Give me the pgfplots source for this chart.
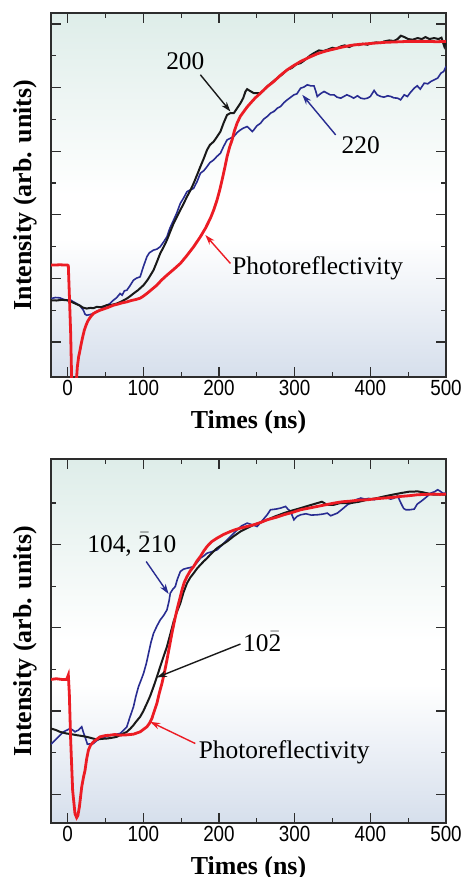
\documentclass[border=0pt]{standalone}
\usepackage{fontspec}
\setmainfont{Liberation Serif}
\newfontfamily\ticksans[FakeStretch=0.86]{Liberation Sans}
\usepackage{pgfplots}
\pgfplotsset{compat=1.18}
\usetikzlibrary{arrows.meta}

\definecolor{pr}{RGB}{236,28,36}
\definecolor{bl}{RGB}{40,44,145}
\definecolor{bk}{RGB}{25,25,25}
\definecolor{frame}{RGB}{45,45,45}
\definecolor{bgtop}{RGB}{222,237,233}
\definecolor{bgbot}{RGB}{214,223,236}
\pgfdeclareverticalshading{bgshade}{100bp}{color(0bp)=(bgbot); color(25bp)=(bgbot); color(44bp)=(white); color(50bp)=(white); color(75bp)=(bgtop); color(100bp)=(bgtop)}

\newcommand{\ob}[1]{$\bar{\hbox{#1}}$}

\tikzset{ann/.style={font=\fontsize{25.5}{30}\selectfont, inner sep=0pt},
  arr/.style={line width=1.4bp, -{Stealth[length=10bp,width=6.5bp]}}}

\pgfplotsset{
  panel/.style={
    scale only axis, width=395bp, height=364bp,
    xmin=-22, xmax=500,
    xtick={0,100,...,500}, minor x tick num=1,
    tick align=inside, xtick pos=both, ytick pos=both,
    major tick length=10bp, minor tick length=5bp,
    tick style={frame, line width=1.2bp},
    axis line style={frame, line width=2bp},
    yticklabel=\empty,
    tick label style={font=\ticksans\fontsize{22}{24}\selectfont},
    /pgf/number format/assume math mode=true,
    xlabel={Times (ns)}, ylabel={Intensity (arb. units)},
    label style={font=\bfseries\fontsize{26}{30}\selectfont},
    xlabel style={at={(axis description cs:0.5,-0.123)}, anchor=center},
    ylabel style={at={(axis description cs:-0.066,0.5)}, anchor=center},
    axis background/.style={shading=bgshade},
  },
}

\begin{document}
\begin{tikzpicture}
\useasboundingbox (0,0) rectangle (464bp,-877bp);

% ---- upper panel ----
\begin{axis}[panel, at={(51bp,-377bp)}, anchor=south west,
  ymin=0, ymax=1090,
  ytick={105,295.4,485.8,676.2,866.6,1057},
  minor ytick={200.2,390.6,581,771.4,961.8}]
\addplot[bl, line width=1.6bp] coordinates {
(-22,235) (-16,238) (-10.2,237) (-6,233) (-1.3,230) (3,232) (7,226) (11.9,220) (16,214) (20.8,200) (23,188) (25.2,185) (30,187) (34,190) (38,196) (42.8,200) (47,208) (51.7,215) (56,220) (60.5,230) (65,238) (69.3,250) (72,245) (75,258) (78.2,260) (82,272) (87,290) (91,296) (95.8,300) (100,330) (104.7,360) (108,372) (113.5,380) (118,383) (122.3,390) (127,405) (131.2,420) (135,445) (140,470) (144,490) (148.9,520) (153,535) (157.7,555) (162,560) (166.5,565) (171,585) (175.4,610) (180,618) (184.2,630) (188,642) (193,650) (197,660) (201.9,670) (206,690) (210.7,710) (215,715) (219.5,720) (224,732) (228.4,740) (232,745) (237.2,750) (241,742) (244,735) (246,740) (250,752) (254.9,760) (259,772) (263.7,780) (268,790) (272.5,795) (277,805) (281.4,810) (286,822) (290.2,830) (295,838) (299,845) (303,848) (307.9,865) (312,868) (316.7,875) (321,872) (325.5,872) (328,855) (329.9,840) (334,848) (338.8,855) (343,850) (347,845) (352,845) (356,838) (360.9,835) (365,840) (369,845) (374.1,840) (378,835) (383,842) (387.4,835) (392,833) (396.2,835) (400,840) (405,858) (409,845) (413.9,840) (418,838) (423,842) (427.1,840) (431,836) (436,835) (440,830) (444.8,845) (449,840) (453,852) (458,865) (462,872) (466,862) (471.3,880) (476,878) (480,885) (484.5,890) (489,895) (493.4,910) (497,915) (500,930)};
\addplot[bk, line width=2bp] coordinates {
(-22,230) (-15,229) (-8,231) (-1.3,230) (4,226) (8,222) (11.9,218) (16,214) (20,208) (25.2,205) (30,207) (34,206) (38.4,210) (44,209) (51.7,215) (58,216) (64.9,220) (71,226) (78.2,235) (82,241) (87,250) (93,260) (100.3,275) (106,292) (113.5,320) (118,345) (122.3,370) (127,390) (131.2,410) (135,432) (140,460) (144,478) (148.9,500) (153,518) (157.7,540) (162,558) (166.5,580) (171,605) (175.4,630) (180,655) (184.2,680) (188,695) (193,705) (197,718) (201.9,735) (206,760) (210.7,785) (215,790) (219.5,790) (224,805) (228.4,820) (232,835) (235,855) (237.2,862) (240,858) (246,850) (250,850) (254.9,850) (259,858) (263.7,870) (270,882) (276.9,895) (283,905) (290.2,920) (296,925) (302,936) (307.9,940) (314,950) (320,962) (325.5,970) (332,978) (338,976) (343.2,980) (350,986) (355,983) (360.9,990) (366,993) (372,988) (378.5,995) (385,994) (390,998) (396.2,995) (402,1000) (408,1002) (413,1000) (418.3,1005) (425,1008) (431,1006) (436,1012) (440.4,1022) (445,1018) (450,1012) (456,1010) (462.5,1015) (468,1012) (473,1018) (478,1012) (484.5,1015) (490,1012) (494,1016) (497.8,990) (500,1005)};
\addplot[pr, line width=2.8bp] coordinates {
(-22,335) (-10,336) (0,335) (0.9,333) (2.5,230) (4,130) (5.5,-30) (11,-30) (12.8,30) (14.5,60) (16.3,80) (18,100) (19.9,120) (22,140) (24.3,155) (26.5,167) (28.7,175) (31,182) (34,190) (38,195) (42.8,200) (48,204) (53,208) (60.5,215) (66,218) (72,222) (78.2,225) (84,229) (90,232) (95.8,236) (100,242) (104.7,250) (110,260) (117.9,275) (124,290) (131.2,305) (140,322) (148.9,340) (157,362) (166.5,390) (175.4,420) (182,445) (188.6,475) (193,500) (197.4,530) (201,560) (204.1,590) (207.5,625) (210.7,660) (214,688) (217.3,710) (220.5,738) (223.9,760) (228,780) (232.8,795) (237,808) (241.6,820) (248,836) (254.9,850) (263,868) (272.5,885) (281,903) (290.2,920) (299,933) (307.9,945) (319,957) (330,968) (341,976) (352,982) (363,988) (374.1,993) (385,996) (396.2,998) (407,1000) (418.3,1002) (429,1003) (440.4,1004) (451,1005) (462.5,1005) (475,1005) (488,1004) (500,1005)};
\node[ann] at (axis cs:155.5,945) {200};
\draw[bk, arr] (axis cs:175.4,905) -- (axis cs:215.1,795);
\node[ann] at (axis cs:387.4,695) {220};
\draw[bl, arr] (axis cs:354.2,725) -- (axis cs:310.1,845);
\node[ann, anchor=west] at (axis cs:217.3,325) {Photoreflectivity};
\draw[pr, arr] (axis cs:215.1,340) -- (axis cs:182,425);
\end{axis}

% ---- lower panel ----
\begin{axis}[panel, at={(51bp,-823bp)}, anchor=south west,
  ymin=0, ymax=1090,
  ytick={86,335.2,584.4,833.6},
  minor ytick={210.6,459.8,709,958.2}]
\addplot[bl, line width=1.6bp] coordinates {
(-22,236) (-18,245) (-14.6,253) (-10,263) (-5.7,273) (-1,278) (3.1,283) (7,278) (9.7,273) (12,276) (14.1,278) (16,282) (18.6,288) (21,270) (23,258) (26.1,236) (30,237) (34,238) (38,246) (42.8,253) (50,258) (56.1,263) (62,265) (69.3,268) (74,278) (78.2,288) (82,315) (87,348) (90,378) (93.6,408) (97,428) (100.3,448) (104,478) (106.9,508) (110,540) (113.5,568) (118,590) (122.3,608) (127,622) (131.2,638) (134,665) (135.6,688) (139,700) (142.2,708) (145,730) (148.9,753) (153,760) (157.7,763) (162,765) (166.5,768) (171,780) (175.4,793) (180,800) (184.2,808) (190,812) (197.4,818) (204,832) (210.7,848) (217,862) (223.9,878) (230,890) (237.2,898) (244,893) (250.4,888) (257,905) (263.7,923) (268.1,938) (275,940) (281.4,943) (288,948) (291,940) (294.6,933) (299,908) (303,918) (307.9,923) (315,926) (322,922) (330,923) (337,925) (343.2,928) (347.6,920) (352,924) (356.4,928) (363,940) (369.7,953) (376,960) (381,968) (387.4,973) (393,970) (398,972) (405,968) (410,972) (416,975) (422.7,973) (427,970) (431.5,973) (436,980) (440.4,958) (444,942) (447,938) (452,938) (458,940) (462,955) (466.9,963) (472,972) (480.1,988) (485,992) (489,998) (492,994) (495.6,988) (500,988)};
\addplot[bk, line width=2bp] coordinates {
(-22,283) (-15,278) (-10.2,273) (-5,270) (-1.3,268) (5,266) (11.9,263) (18,261) (25.2,258) (32,254) (38.4,250) (45,252) (51.7,253) (58,255) (64.9,258) (71,265) (78.2,273) (83,283) (87,293) (91,305) (95.8,318) (100,335) (104.7,358) (109,380) (113.5,408) (118,438) (122.3,468) (127,500) (131.2,528) (135.6,565) (140,603) (144,630) (148.9,658) (153,690) (157.7,718) (162,735) (166.5,748) (171,762) (175.4,773) (180,784) (184.2,793) (190,807) (197.4,823) (204,833) (210.7,843) (219,858) (228.4,873) (237,883) (246,893) (255,900) (263.7,908) (274,918) (285.8,928) (297,936) (307.9,943) (318,950) (330,958) (336,962) (343,953) (352,953) (360,958) (374.1,958) (385,962) (396.2,968) (407,972) (418.3,978) (429,983) (440.4,988) (451,992) (462.5,993) (470,990) (478,986) (484.5,983) (492,984) (500,983)};
\addplot[pr, line width=2.8bp] coordinates {
(-22,430) (-15,432) (-8,430) (-1.3,430) (0.9,443) (2.2,388) (4,248) (6.6,98) (9.7,28) (11.9,16) (13.5,22) (15.5,48) (18.6,108) (21,138) (23,158) (25,190) (27.4,218) (30,232) (34,243) (38,250) (42.8,258) (50,262) (56.1,263) (62,265) (69.3,263) (78,264) (87,266) (92,270) (95.8,273) (100,280) (104.7,288) (108,298) (111.3,313) (114.5,335) (117.9,358) (121,388) (124.6,418) (128,452) (131.2,488) (134.5,528) (137.8,568) (141,603) (144.4,638) (148,670) (151.1,698) (154,720) (157.7,738) (162,755) (166.5,768) (171,785) (175.4,798) (180,815) (184.2,828) (190,842) (197.4,853) (206,864) (215.1,873) (221,878) (228.4,883) (237,888) (246,893) (255,900) (263.7,908) (275,915) (285.8,923) (297,930) (307.9,938) (319,943) (330,948) (341,953) (352,958) (363,962) (374,964) (385,967) (396.2,968) (407,971) (418.3,973) (429,975) (440.4,978) (451,980) (462.5,983) (473,984) (484.5,985) (492,984) (500,985)};
\node[ann] at (axis cs:84.8,833) {104, \ob{2}10};
\draw[bl, arr] (axis cs:103.8,783) -- (axis cs:133.4,686);
\node[ann] at (axis cs:257.1,543) {10\ob{2}};
\draw[bk, arr] (axis cs:228.4,536) -- (axis cs:117.9,436);
\node[ann, anchor=west] at (axis cs:173.1,213) {Photoreflectivity};
\draw[pr, arr] (axis cs:168.7,238) -- (axis cs:109.1,303);
\end{axis}
\end{tikzpicture}
\end{document}
